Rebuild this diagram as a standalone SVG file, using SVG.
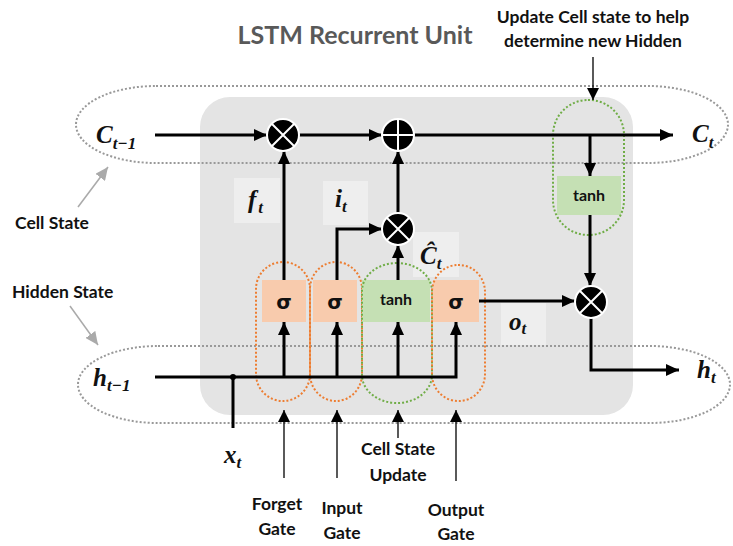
<svg xmlns="http://www.w3.org/2000/svg" width="733" height="546" viewBox="0 0 733 546">
<defs>
<style>
.lbl{font-family:Lato,"Open Sans",sans-serif;font-weight:bold;font-size:17.5px;fill:#111;text-anchor:middle}
.math{font-family:"Liberation Serif",serif;font-weight:bold;font-style:italic;fill:#111}
.thick{stroke:#000;stroke-width:3;fill:none}
.thin{stroke:#000;stroke-width:1.3;fill:none}
.sig{fill:#f8cbad}
.tanh{fill:#c5e0b4}
.odot{fill:none;stroke:#ed7d31;stroke-width:2;stroke-dasharray:2 2}
.gdot{fill:none;stroke:#70ad47;stroke-width:2;stroke-dasharray:2 2}
.gray{fill:none;stroke:#999;stroke-width:2;stroke-dasharray:2 2}
.lbox{fill:#eeeeee}
.op{fill:#000;stroke:#fff;stroke-width:2}
.opl{stroke:#fff;stroke-width:2}
.sg{font-family:"DejaVu Sans",sans-serif;font-weight:bold;font-size:20px;text-anchor:middle;fill:#111}
.th{font-family:Lato,sans-serif;font-weight:bold;font-size:16px;text-anchor:middle;fill:#111}
</style>
<marker id="ah" markerUnits="userSpaceOnUse" markerWidth="14" markerHeight="12" refX="13" refY="6" orient="auto"><path d="M0,0 L13,6 L0,12 z" fill="#000"/></marker>
<marker id="ahs" markerUnits="userSpaceOnUse" markerWidth="12" markerHeight="12" refX="12" refY="6" orient="auto"><path d="M0,0 L12,6 L0,12 z" fill="#000"/></marker>
<marker id="ahg" markerUnits="userSpaceOnUse" markerWidth="14" markerHeight="12" refX="13" refY="6" orient="auto"><path d="M0,0 L13,6 L0,12 z" fill="#aaa"/></marker>
</defs>
<rect width="733" height="546" fill="#fff"/>
<rect x="200" y="97" width="433" height="318" rx="30" fill="#e4e4e4"/>
<text x="355" y="44" font-family="Lato,'Open Sans',sans-serif" font-weight="bold" font-size="25" fill="#595959" text-anchor="middle">LSTM Recurrent Unit</text>
<text class="lbl" x="593" y="23">Update Cell state to help</text>
<text class="lbl" x="593" y="47">determine new Hidden</text>
<rect class="gray" x="76" y="86" width="652" height="77" rx="80" ry="38.5"/>
<rect class="gray" x="78" y="346" width="652" height="77" rx="80" ry="38.5"/>
<text class="lbl" x="15" y="229" style="text-anchor:start">Cell State</text>
<text class="lbl" x="12" y="298" style="text-anchor:start">Hidden State</text>
<g id="label-boxes">
<rect class="lbox" x="234" y="178" width="46" height="45"/>
<rect class="lbox" x="323" y="181" width="45" height="44"/>
<rect class="lbox" x="413" y="232" width="46" height="45"/>
<rect class="lbox" x="501" y="303" width="45" height="42"/>
</g>
<g id="forget-gate"><rect class="sig" x="262" y="280" width="44" height="42"/><text class="sg" x="284" y="309">σ</text><rect class="odot" x="256" y="262" width="54" height="139" rx="27" ry="27"/></g>
<g id="input-gate"><rect class="sig" x="313" y="280" width="44" height="42"/><text class="sg" x="335" y="309">σ</text><rect class="odot" x="310" y="262" width="52" height="139" rx="26" ry="27"/></g>
<g id="cell-update"><rect class="tanh" x="362" y="280" width="68" height="42"/><text class="th" x="396" y="305">tanh</text><rect class="gdot" x="362" y="263" width="70" height="140" rx="35" ry="28"/></g>
<g id="output-gate"><rect class="sig" x="433" y="280" width="46" height="42"/><text class="sg" x="456" y="309">σ</text><rect class="odot" x="432" y="265" width="53" height="136" rx="26" ry="27"/></g>
<g id="cell-tanh"><rect class="tanh" x="557" y="176" width="64" height="39"/><text class="th" x="589" y="201">tanh</text><rect class="gdot" x="553" y="100" width="71" height="135" rx="35" ry="35"/></g>
<g id="connectors">
<line class="thick" x1="155" y1="135" x2="267" y2="135" marker-end="url(#ah)"/>
<line class="thick" x1="299" y1="135" x2="382" y2="135" marker-end="url(#ah)"/>
<line class="thick" x1="414" y1="135" x2="673" y2="135" marker-end="url(#ah)"/>
<line class="thick" x1="590" y1="135" x2="590" y2="176" marker-end="url(#ah)"/>
<line class="thick" x1="590" y1="215" x2="590" y2="286" marker-end="url(#ah)"/>
<line class="thick" x1="284" y1="280" x2="284" y2="151" marker-end="url(#ah)"/>
<path class="thick" d="M337,280 V229 H382" marker-end="url(#ah)"/>
<line class="thick" x1="398" y1="280" x2="398" y2="245" marker-end="url(#ah)"/>
<line class="thick" x1="398" y1="213" x2="398" y2="151" marker-end="url(#ah)"/>
<line class="thick" x1="479" y1="301" x2="575" y2="301" marker-end="url(#ah)"/>
<path class="thick" d="M591,318 V370 H679" marker-end="url(#ah)"/>
<path class="thick" d="M155,377 H456 V322" marker-end="url(#ah)"/>
<line class="thick" x1="284" y1="377" x2="284" y2="322" marker-end="url(#ah)"/>
<line class="thick" x1="337" y1="377" x2="337" y2="322" marker-end="url(#ah)"/>
<line class="thick" x1="398" y1="377" x2="398" y2="322" marker-end="url(#ah)"/>
<line class="thick" x1="233" y1="428" x2="233" y2="377"/>
<circle cx="233" cy="377" r="3" fill="#000"/>
<line class="thin" x1="284" y1="478" x2="284" y2="410" marker-end="url(#ahs)"/>
<line class="thin" x1="337" y1="478" x2="337" y2="410" marker-end="url(#ahs)"/>
<line class="thin" x1="398" y1="438" x2="398" y2="410" marker-end="url(#ahs)"/>
<line class="thin" x1="456" y1="481" x2="456" y2="410" marker-end="url(#ahs)"/>
<line class="thin" x1="593" y1="57" x2="593" y2="100" marker-end="url(#ahs)"/>
<line x1="78" y1="207" x2="108" y2="167" stroke="#aaa" stroke-width="1.5" marker-end="url(#ahg)"/>
<line x1="70" y1="306" x2="98" y2="345" stroke="#aaa" stroke-width="1.5" marker-end="url(#ahg)"/>
</g>
<g id="mult-forget"><circle class="op" cx="283" cy="135" r="16"/><path class="opl" d="M272,124 L294,146 M294,124 L272,146"/></g>
<g id="add-cell"><circle class="op" cx="398" cy="135" r="16"/><path class="opl" d="M382,135 H414 M398,119 V151"/></g>
<g id="mult-input"><circle class="op" cx="398" cy="229" r="16"/><path class="opl" d="M387,218 L409,240 M409,218 L387,240"/></g>
<g id="mult-output"><circle class="op" cx="591" cy="302" r="16"/><path class="opl" d="M580,291 L602,313 M602,291 L580,313"/></g>
<g id="math-labels">
<text class="math" x="96" y="143" font-size="25">C<tspan font-size="17" dy="6">t−1</tspan></text>
<text class="math" x="692" y="142" font-size="25">C<tspan font-size="17" dy="6">t</tspan></text>
<text class="math" x="248" y="208" font-size="25">f<tspan font-size="17" dy="5" dx="2">t</tspan></text>
<text class="math" x="335" y="207" font-size="25">i<tspan font-size="17" dy="5">t</tspan></text>
<text class="math" x="420" y="264" font-size="25">Ĉ<tspan font-size="17" dy="5">t</tspan></text>
<text class="math" x="509" y="330" font-size="25">o<tspan font-size="17" dy="4">t</tspan></text>
<text class="math" x="697" y="378" font-size="25">h<tspan font-size="17" dy="5">t</tspan></text>
<text class="math" x="93" y="386" font-size="25">h<tspan font-size="17" dy="5">t−1</tspan></text>
<text class="math" x="224" y="463" font-size="25">x<tspan font-size="17" dy="5">t</tspan></text>
</g>
<g id="gate-labels">
<text class="lbl" x="277" y="510">Forget</text><text class="lbl" x="277" y="535">Gate</text>
<text class="lbl" x="342" y="514">Input</text><text class="lbl" x="342" y="539">Gate</text>
<text class="lbl" x="398" y="455">Cell State</text><text class="lbl" x="398" y="481">Update</text>
<text class="lbl" x="456" y="516">Output</text><text class="lbl" x="456" y="540">Gate</text>
</g>
</svg>
